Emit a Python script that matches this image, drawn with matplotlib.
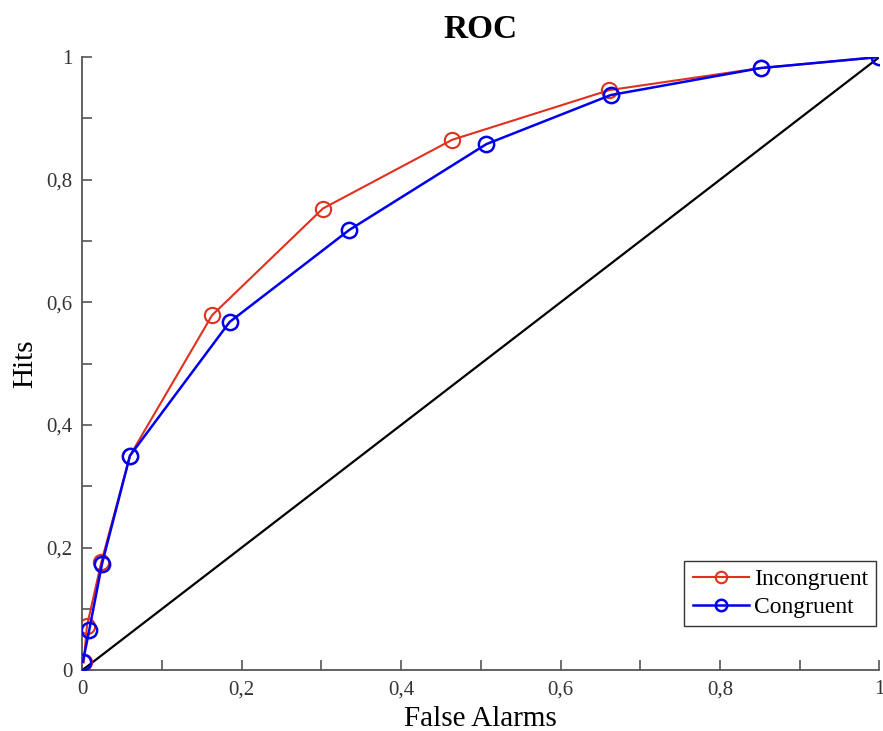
import numpy as np
import matplotlib.pyplot as plt
from matplotlib.ticker import MultipleLocator, FuncFormatter

# data
incong_fa = [0.002, 0.006, 0.024, 0.060, 0.163, 0.302, 0.464, 0.661, 0.851, 1.0]
incong_hit = [0.013, 0.072, 0.176, 0.350, 0.579, 0.753, 0.865, 0.946, 0.982, 1.0]
cong_fa = [0.001, 0.009, 0.025, 0.060, 0.185, 0.335, 0.507, 0.663, 0.851, 1.0]
cong_hit = [0.014, 0.066, 0.174, 0.350, 0.568, 0.718, 0.858, 0.938, 0.982, 1.0]
chance = [0, 1]

plt.rcParams['font.family'] = ['Liberation Serif', 'DejaVu Serif']

fig = plt.figure(figsize=(8.83, 7.31), dpi=100)
ax = fig.add_axes([0.093, 0.083, 0.903, 0.839])

ax.plot(chance, chance, c='black', lw=1.6, zorder=1)
ax.plot(incong_fa, incong_hit, c='#e0301e', lw=1.5, marker='o', ms=11,
        mfc='none', mec='#e0301e', mew=1.5, label='Incongruent', zorder=2)
ax.plot(cong_fa, cong_hit, c='#0000ee', lw=1.8, marker='o', ms=11,
        mfc='none', mec='#0000ee', mew=1.8, label='Congruent', zorder=3)

ax.set_xlim(0, 1)
ax.set_ylim(0, 1)
for s in ['top', 'right']:
    ax.spines[s].set_visible(False)
for s in ['left', 'bottom']:
    ax.spines[s].set_color('#555555')
    ax.spines[s].set_linewidth(1.3)

fmt = FuncFormatter(lambda v, p: ('%g' % round(v, 1)).replace('.', ',') if round(v * 10) % 2 == 0 else '')
for axis in [ax.xaxis, ax.yaxis]:
    axis.set_major_locator(MultipleLocator(0.1))
    axis.set_major_formatter(fmt)
ax.tick_params(direction='in', length=7, width=1.2, color='#555555',
               labelsize=15, labelcolor='#333333', pad=7)

ax.set_title('ROC', fontsize=24, fontweight='bold', pad=14)
ax.set_xlabel('False Alarms', fontsize=21, labelpad=5)
ax.set_ylabel('Hits', fontsize=21, labelpad=6)

leg = ax.legend(loc='lower right', bbox_to_anchor=(0.996, 0.072), fontsize=17,
                fancybox=False, edgecolor='#333333', framealpha=1,
                handlelength=2.4, handletextpad=0.2, borderpad=0.35,
                labelspacing=0.25, borderaxespad=0, markerscale=0.75)
leg.get_frame().set_linewidth(1.0)

fig.savefig('out.png', dpi=100)
